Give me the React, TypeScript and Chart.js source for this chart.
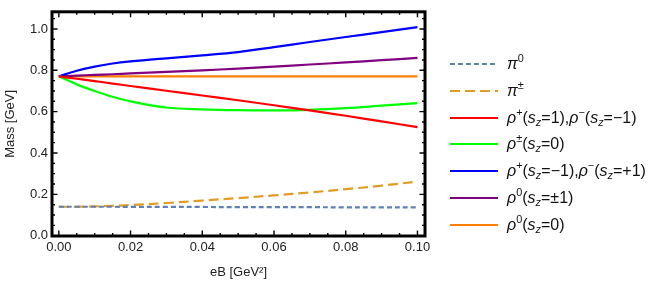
import React, { useEffect, useRef } from "react";
import { Chart, registerables } from "chart.js";

Chart.register(...registerables);

// eB [GeV^2]
const eB = [0, 0.005, 0.01, 0.015, 0.02, 0.03, 0.04, 0.05, 0.06, 0.07, 0.08, 0.09, 0.1];
const pi0 = [0.14, 0.14, 0.14, 0.14, 0.139, 0.139, 0.139, 0.138, 0.138, 0.138, 0.137, 0.137, 0.137];
const piPM = [0.14, 0.14, 0.142, 0.144, 0.148, 0.158, 0.17, 0.182, 0.195, 0.209, 0.225, 0.242, 0.262];
const rhoRed = [0.771, 0.759, 0.748, 0.736, 0.724, 0.701, 0.678, 0.655, 0.631, 0.606, 0.58, 0.553, 0.525];
const rhoGreen = [0.771, 0.732, 0.7, 0.672, 0.65, 0.62, 0.611, 0.607, 0.606, 0.609, 0.617, 0.629, 0.641];
const rhoBlue = [0.771, 0.798, 0.818, 0.833, 0.843, 0.858, 0.872, 0.888, 0.912, 0.937, 0.961, 0.985, 1.009];
const rho0Purple = [0.771, 0.774, 0.778, 0.781, 0.785, 0.792, 0.8, 0.808, 0.818, 0.828, 0.838, 0.849, 0.86];
const rho0Orange = [0.771, 0.771, 0.771, 0.771, 0.771, 0.771, 0.771, 0.771, 0.771, 0.771, 0.771, 0.771, 0.771];

const xTicks = [0, 0.02, 0.04, 0.06, 0.08, 0.1];
const yTicks = [0, 0.2, 0.4, 0.6, 0.8, 1.0];

const colors = ["#5E81B5", "#E19C24", "#FF0000", "#00FF00", "#0000FF", "#800080", "#FF8000"];
const dashes: number[][] = [[5, 3], [10, 5], [], [], [], [], []];
const seriesNames = [
  "π0",
  "π±",
  "ρ+(sz=1),ρ-(sz=-1)",
  "ρ±(sz=0)",
  "ρ+(sz=-1),ρ-(sz=+1)",
  "ρ0(sz=±1)",
  "ρ0(sz=0)",
];

const FONT = "'Liberation Sans', Arial, sans-serif";

const S = (p: { t: string }) => <sup style={{ fontSize: "0.68em", verticalAlign: "0.6em", lineHeight: 0 }}>{p.t}</sup>;
const Z = () => (
  <sub style={{ fontSize: "0.68em", verticalAlign: "-0.3em", lineHeight: 0, fontStyle: "italic" }}>z</sub>
);
const Rho = () => <i>ρ</i>;
const Sz = () => (
  <>
    <i>s</i>
    <Z />
  </>
);

const legendContent = [
  <>
    <i>π</i>
    <S t="0" />
  </>,
  <>
    <i>π</i>
    <S t="±" />
  </>,
  <>
    <Rho />
    <S t="+" />(<Sz />=1),<Rho />
    <S t="−" />(<Sz />=−1)
  </>,
  <>
    <Rho />
    <S t="±" />(<Sz />=0)
  </>,
  <>
    <Rho />
    <S t="+" />(<Sz />=−1),<Rho />
    <S t="−" />(<Sz />=+1)
  </>,
  <>
    <Rho />
    <S t="0" />(<Sz />=±1)
  </>,
  <>
    <Rho />
    <S t="0" />(<Sz />=0)
  </>,
];

const framePlugin = {
  id: "frameTicks",
  afterDatasetsDraw(chart: any) {
    const { ctx, chartArea, scales } = chart;
    const { left, right, top, bottom } = chartArea;
    const x = scales.x;
    const y = scales.y;
    ctx.save();
    ctx.strokeStyle = "#000";
    ctx.lineWidth = 1.4;
    ctx.beginPath();
    for (let i = 0; i <= 20; i++) {
      const v = i * 0.005;
      const px = x.getPixelForValue(v);
      const len = i % 4 === 0 ? 5.5 : 3;
      ctx.moveTo(px, bottom);
      ctx.lineTo(px, bottom - len);
      ctx.moveTo(px, top);
      ctx.lineTo(px, top + len);
    }
    for (let i = 0; i <= 21; i++) {
      const v = i * 0.05;
      const py = y.getPixelForValue(v);
      const len = i % 4 === 0 ? 5.5 : 3;
      ctx.moveTo(left, py);
      ctx.lineTo(left + len, py);
      ctx.moveTo(right, py);
      ctx.lineTo(right - len, py);
    }
    ctx.stroke();
    ctx.lineWidth = 3;
    ctx.strokeRect(left, top, right - left, bottom - top);
    ctx.restore();
  },
};

export default function App() {
  const ref = useRef<HTMLCanvasElement | null>(null);

  useEffect(() => {
    if (!ref.current) return;
    const datasets = [pi0, piPM, rhoRed, rhoGreen, rhoBlue, rho0Purple, rho0Orange].map((arr, i) => ({
      label: seriesNames[i],
      data: arr.map((v, j) => ({ x: eB[j], y: v })),
      borderColor: colors[i],
      backgroundColor: colors[i],
      borderWidth: 2.2,
      borderDash: dashes[i],
      pointRadius: 0,
      fill: false,
      tension: 0.35,
    }));
    const chart = new Chart(ref.current, {
      type: "line",
      data: { datasets },
      options: {
        animation: false,
        responsive: false,
        maintainAspectRatio: false,
        layout: { padding: { left: 0, top: 5, right: 229, bottom: 0 } },
        plugins: { legend: { display: false }, tooltip: { enabled: false } },
        scales: {
          x: {
            type: "linear",
            min: -0.0019,
            max: 0.1021,
            grid: { display: false, drawTicks: false },
            border: { display: false },
            afterBuildTicks: (s: any) => {
              s.ticks = xTicks.map((v) => ({ value: v }));
            },
            afterFit: (s: any) => {
              s.height = 54;
            },
            ticks: {
              autoSkip: false,
              maxRotation: 0,
              padding: 4,
              color: "#222",
              font: { family: FONT, size: 13 },
              callback: (v: any) => Number(v).toFixed(2),
            },
            title: {
              display: true,
              text: "eB [GeV²]",
              color: "#222",
              font: { family: FONT, size: 13 },
              padding: { top: 0, bottom: 10 },
            },
          },
          y: {
            type: "linear",
            min: -0.0015,
            max: 1.083,
            grid: { display: false, drawTicks: false },
            border: { display: false },
            afterBuildTicks: (s: any) => {
              s.ticks = yTicks.map((v) => ({ value: v }));
            },
            afterFit: (s: any) => {
              s.width = 52;
            },
            ticks: {
              autoSkip: false,
              padding: 4,
              color: "#222",
              font: { family: FONT, size: 13 },
              callback: (v: any) => Number(v).toFixed(1),
            },
            title: {
              display: true,
              text: "Mass [GeV]",
              color: "#222",
              font: { family: FONT, size: 13 },
              padding: { top: 3, bottom: 0 },
            },
          },
        },
      },
      plugins: [framePlugin],
    });
    return () => chart.destroy();
  }, []);

  return (
    <div style={{ position: "fixed", left: 0, top: 0, width: 654, height: 290, background: "#fff" }}>
      <canvas ref={ref} width={654} height={290} style={{ width: 654, height: 290, display: "block" }} />
      {legendContent.map((c, i) => (
        <div
          key={i}
          style={{
            position: "absolute",
            left: 450,
            top: 64 + i * 26.8 - 11,
            height: 22,
            display: "flex",
            alignItems: "center",
            fontFamily: FONT,
            fontSize: 16,
            color: "#111",
            whiteSpace: "nowrap",
          }}
        >
          <svg width={48} height={6} style={{ display: "block" }}>
            <line
              x1={0}
              y1={3}
              x2={48}
              y2={3}
              stroke={colors[i]}
              strokeWidth={2.2}
              strokeDasharray={dashes[i].length ? dashes[i].join(" ") : undefined}
            />
          </svg>
          <span style={{ marginLeft: 9 }}>{c}</span>
        </div>
      ))}
    </div>
  );
}
